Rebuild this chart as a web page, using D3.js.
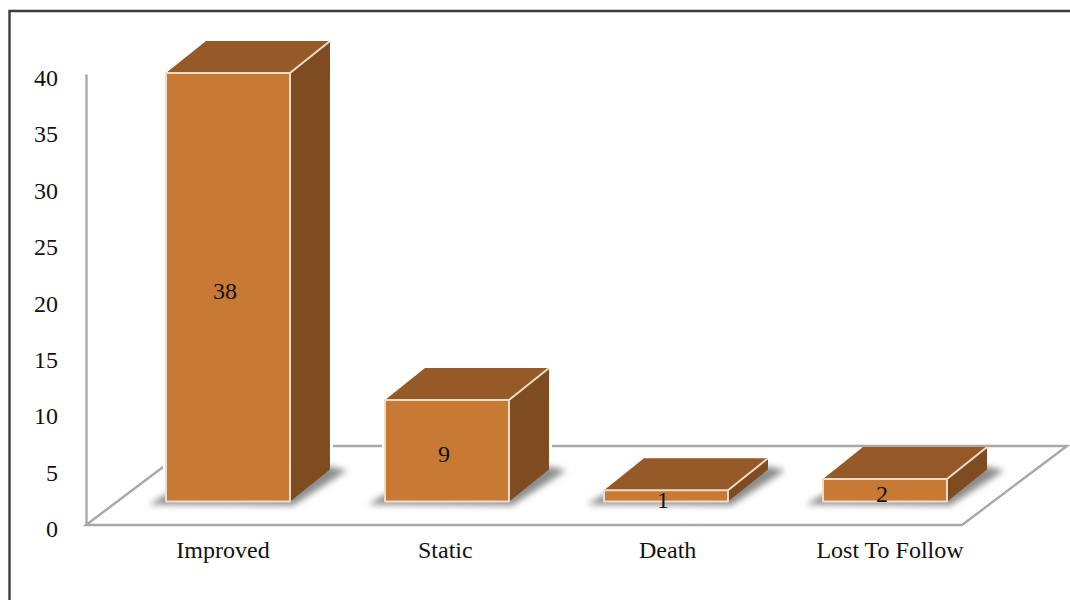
<!DOCTYPE html>
<html>
<head>
<meta charset="utf-8">
<script src="https://cdnjs.cloudflare.com/ajax/libs/d3/7.8.5/d3.min.js"></script>
<style>
  html, body { margin: 0; padding: 0; background: #fff; }
  svg { display: block; }
  text { font-family: "Liberation Serif", serif; fill: #111; }
</style>
</head>
<body>
<svg id="chart" width="1070" height="600"></svg>
<script>
const categories = ["Improved", "Static", "Death", "Lost To Follow"];
const outcomeCounts = [38, 9, 1, 2];
const yTickValues = [0, 5, 10, 15, 20, 25, 30, 35, 40];

const colors = {
  front: "#C87934", top: "#955A27", side: "#7E4C20",
  edge: "#EEDCCB", wall: "#A8A8A8", frame: "#3C3C3C", shadow: "#8C8C8C"
};

// Oblique projection: how far the back of the scene shifts from its front
const barDepth = { dx: 40, dy: -32 };
const floorDepth = { dx: 105, dy: -79 };
const floorLift = { dx: 32.5, dy: -23.5 };

const svg = d3.select("#chart");
const yAxisX = 86, floorRight = 962;

const y = d3.scaleLinear().domain([0, 40]).range([525, 74]);
const x = d3.scaleBand().domain(categories)
  .range([yAxisX + floorLift.dx, floorRight + floorLift.dx])
  .paddingInner(0.434).paddingOuter(0.217);
const labelX = d3.scalePoint().domain(categories).range([223, 890]);

const poly = pts => pts.map(p => p.join(",")).join(" ");

// Soft blur for the cast shadows
const defs = svg.append("defs");
defs.append("filter").attr("id", "soft")
  .attr("x", "-20%").attr("y", "-60%").attr("width", "140%").attr("height", "220%")
  .append("feGaussianBlur").attr("stdDeviation", 3);

// Outer frame: open at the right and bottom edges of the page
svg.append("path")
  .attr("d", `M9.5,600 V11 H1070`)
  .attr("fill", "none").attr("stroke", colors.frame).attr("stroke-width", 2.4);

// Floor plane
const y0 = y(0);
const floorBackY = y0 + floorDepth.dy;
svg.append("polygon")
  .attr("points", poly([
    [yAxisX, y0], [floorRight, y0],
    [floorRight + floorDepth.dx, floorBackY],
    [yAxisX + floorDepth.dx, floorBackY]
  ]))
  .attr("fill", "#fff").attr("stroke", colors.wall).attr("stroke-width", 2.4);

// Value axis: line plus tick labels
const axis = svg.append("g")
  .attr("transform", `translate(${yAxisX},0)`)
  .call(d3.axisLeft(y).tickValues(yTickValues).tickSize(0).tickPadding(28));
axis.select(".domain").attr("stroke", colors.wall).attr("stroke-width", 2.4);
axis.selectAll("text")
  .attr("font-family", "Liberation Serif, serif")
  .attr("font-size", 24).attr("dy", "0.48em").attr("fill", "#111");

const baseY = y0 + floorLift.dy;
const bars = categories.map((name, i) => {
  const value = outcomeCounts[i];
  return {
    name, value,
    x0: x(name), x1: x(name) + x.bandwidth(),
    top: baseY - (y0 - y(value))
  };
});

// White halo that separates tall boxes from the floor lines behind them
svg.append("g").selectAll("polygon")
  .data(bars.filter(d => d.top + barDepth.dy < floorBackY - 4))
  .join("polygon")
  .attr("points", d => poly([
    [d.x0, baseY], [d.x1, baseY],
    [d.x1 + barDepth.dx, baseY + barDepth.dy],
    [d.x1 + barDepth.dx, d.top + barDepth.dy],
    [d.x0 + barDepth.dx, d.top + barDepth.dy],
    [d.x0, d.top]
  ]))
  .attr("fill", "#fff").attr("stroke", "#fff").attr("stroke-width", 6);

// Shadows fall on the floor to the lower left and along the right side
svg.append("g").selectAll("polygon").data(bars).join("polygon")
  .attr("points", d => poly([
    [d.x0 - 17, baseY + 3],
    [d.x1 + 3, baseY + 4],
    [d.x1 + barDepth.dx + 17, baseY + barDepth.dy + 1],
    [d.x1 + barDepth.dx, baseY + barDepth.dy - 3],
    [d.x0, baseY - 7]
  ]))
  .attr("fill", colors.shadow).attr("filter", "url(#soft)");

// Three visible faces of each box
const box = svg.append("g").selectAll("g").data(bars).join("g")
  .attr("stroke", colors.edge).attr("stroke-width", 2).attr("stroke-linejoin", "round");

box.append("polygon").attr("fill", colors.side).attr("points", d => poly([
  [d.x1, baseY], [d.x1, d.top],
  [d.x1 + barDepth.dx, d.top + barDepth.dy],
  [d.x1 + barDepth.dx, baseY + barDepth.dy]
])).attr("stroke", "none");

box.append("polygon").attr("fill", colors.top).attr("points", d => poly([
  [d.x0, d.top], [d.x1, d.top],
  [d.x1 + barDepth.dx, d.top + barDepth.dy],
  [d.x0 + barDepth.dx, d.top + barDepth.dy]
])).attr("stroke", "none");

box.append("rect").attr("fill", colors.front)
  .attr("x", d => d.x0).attr("y", d => d.top)
  .attr("width", d => d.x1 - d.x0).attr("height", d => baseY - d.top);

// Light highlight on the receding top-right edge
box.append("line")
  .attr("x1", d => d.x1).attr("y1", d => d.top)
  .attr("x2", d => d.x1 + barDepth.dx).attr("y2", d => d.top + barDepth.dy);

// Value labels sit near the middle of each front face
svg.append("g").selectAll("text").data(bars).join("text")
  .attr("x", d => (d.x0 + d.x1) / 2 - 3)
  .attr("y", d => (d.top + baseY) / 2 + 3)
  .attr("dy", "0.36em").attr("text-anchor", "middle")
  .attr("font-size", 24).text(d => d.value);

// Category labels under the floor
svg.append("g").selectAll("text").data(categories).join("text")
  .attr("x", d => labelX(d)).attr("y", 558)
  .attr("text-anchor", "middle").attr("font-size", 24).text(d => d);
</script>
</body>
</html>
